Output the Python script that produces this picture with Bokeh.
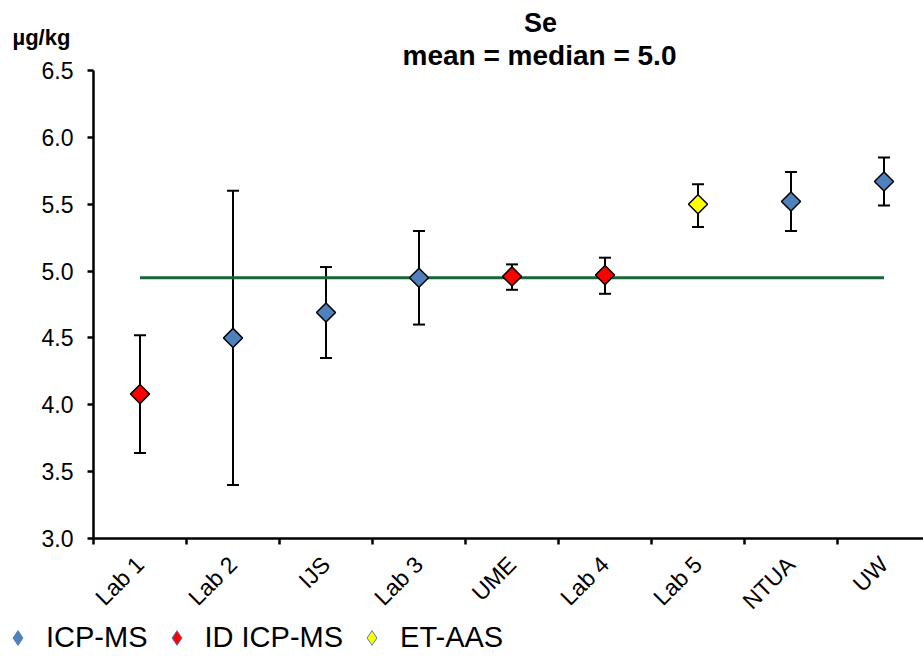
import math
from bokeh.plotting import figure
from bokeh.models import (Range1d, FixedTicker, NumeralTickFormatter, Whisker, TeeHead,
                          ColumnDataSource, Label, Legend, LegendItem)
from bokeh.embed import file_html
from bokeh.resources import INLINE

# ---- data ----
labs = ["Lab 1", "Lab 2", "IJS", "Lab 3", "UME", "Lab 4", "Lab 5", "NTUA", "UW"]
methods = ["ID ICP-MS", "ICP-MS", "ICP-MS", "ICP-MS", "ID ICP-MS", "ID ICP-MS",
           "ET-AAS", "ICP-MS", "ICP-MS"]
values = [4.08, 4.50, 4.69, 4.95, 4.96, 4.97, 5.50, 5.52, 5.67]
lower = [3.64, 3.40, 4.35, 4.60, 4.86, 4.83, 5.33, 5.30, 5.49]
upper = [4.52, 5.60, 5.03, 5.30, 5.05, 5.10, 5.65, 5.74, 5.85]
reference_value = 4.95
y_ticks = [3.0, 3.5, 4.0, 4.5, 5.0, 5.5, 6.0, 6.5]
method_order = ["ICP-MS", "ID ICP-MS", "ET-AAS"]
method_colors = ["#4F81BD", "#FF0000", "#FFFF00"]
title_lines = ["Se", "mean = median = 5.0"]
unit_label = "µg/kg"

FONT = "Liberation Sans"
W, H = 923, 657

centers = [i + 0.5 for i in range(len(labs))]
boundaries = [float(i) for i in range(len(labs) + 1)]

# frame covers the whole canvas; axes are pinned at x=0 and y=3.0
PX_X = 93.0                                   # pixels per category
PX_Y = 468.0 / (y_ticks[-1] - y_ticks[0])     # pixels per unit
x_start = -93.0 / PX_X
x_end = (W - 93.0) / PX_X
y_start = y_ticks[0] - (H - 538.0) / PX_Y
y_end = y_ticks[-1] + 70.0 / PX_Y

p = figure(width=W, height=H, output_backend="svg", toolbar_location=None,
           x_range=Range1d(x_start, x_end), y_range=Range1d(y_start, y_end),
           min_border=0, min_border_left=0, min_border_right=0,
           min_border_top=0, min_border_bottom=0)
p.outline_line_color = None
p.xgrid.visible = False
p.ygrid.visible = False
p.background_fill_color = "white"
p.border_fill_color = "white"

# y axis
ya = p.yaxis[0]
ya.fixed_location = 0
ya.bounds = (y_ticks[0], y_ticks[-1])
ya.ticker = FixedTicker(ticks=y_ticks, minor_ticks=[])
ya.formatter = NumeralTickFormatter(format="0.0")
ya.axis_line_width = 2.5
ya.major_tick_line_width = 2.5
ya.major_tick_out = 6
ya.major_tick_in = 0
ya.minor_tick_line_color = None
ya.major_label_text_font = FONT
ya.major_label_text_font_size = "23px"
ya.major_label_text_color = "black"
ya.major_label_standoff = 14

# x axis
xa = p.xaxis[0]
xa.fixed_location = y_ticks[0]
xa.bounds = (0, len(labs))
xa.ticker = FixedTicker(ticks=centers, minor_ticks=boundaries)
xa.major_label_overrides = {c: l for c, l in zip(centers, labs)}
xa.axis_line_width = 2.5
xa.major_tick_out = 0
xa.major_tick_in = 0
xa.minor_tick_out = 6
xa.minor_tick_in = 0
xa.minor_tick_line_width = 2.5
xa.minor_tick_line_color = "black"
xa.major_label_orientation = math.pi / 4
xa.major_label_text_font = FONT
xa.major_label_text_font_size = "23px"
xa.major_label_text_color = "black"
xa.major_label_standoff = 16

# reference line
p.line(x=[centers[0], centers[-1]], y=[reference_value, reference_value],
       line_color="#17643A", line_width=3)

# error bars
err_src = ColumnDataSource(dict(x=centers, lower=lower, upper=upper))
wh = Whisker(base="x", lower="lower", upper="upper", source=err_src,
             line_color="black", line_width=2, level="underlay",
             upper_head=TeeHead(size=12, line_width=2, line_color="black"),
             lower_head=TeeHead(size=12, line_width=2, line_color="black"))
p.add_layout(wh)

# points per method (a small legend-style diamond sits hidden under each marker)
legend_items = []
for m, col in zip(method_order, method_colors):
    idx = [i for i, mm in enumerate(methods) if mm == m]
    src = ColumnDataSource(dict(x=[centers[i] for i in idx], y=[values[i] for i in idx]))
    proxy = p.scatter("x", "y", source=src, marker="diamond", size=12,
                      fill_color=col, line_color="#4F81BD", line_width=1)
    p.scatter("x", "y", source=src, marker="square", angle=math.pi / 4, size=13.5,
              fill_color=col, line_color="black", line_width=1.5)
    legend_items.append(LegendItem(label=m, renderers=[proxy]))

legend = Legend(items=legend_items, orientation="horizontal", location=(-1, 1),
                glyph_width=37, glyph_height=37, label_height=37,
                label_standoff=10, spacing=10,
                padding=0, margin=0, border_line_color=None,
                background_fill_alpha=0, label_text_font=FONT,
                label_text_font_size="29px", label_text_color="black")
p.add_layout(legend, "center")

# title and unit
p.add_layout(Label(x=540, y=H - 22, x_units="screen", y_units="screen", text=title_lines[0],
                   text_font=FONT, text_font_size="27px", text_font_style="bold",
                   text_align="center", text_baseline="middle", text_color="black"))
p.add_layout(Label(x=539, y=H - 55, x_units="screen", y_units="screen", text=title_lines[1],
                   text_font=FONT, text_font_size="28px", text_font_style="bold",
                   text_align="center", text_baseline="middle", text_color="black"))
p.add_layout(Label(x=12, y=H - 37, x_units="screen", y_units="screen", text=unit_label,
                   text_font=FONT, text_font_size="22px", text_font_style="bold",
                   text_align="left", text_baseline="middle", text_color="black"))

open("out.html", "w").write(file_html(p, INLINE))
